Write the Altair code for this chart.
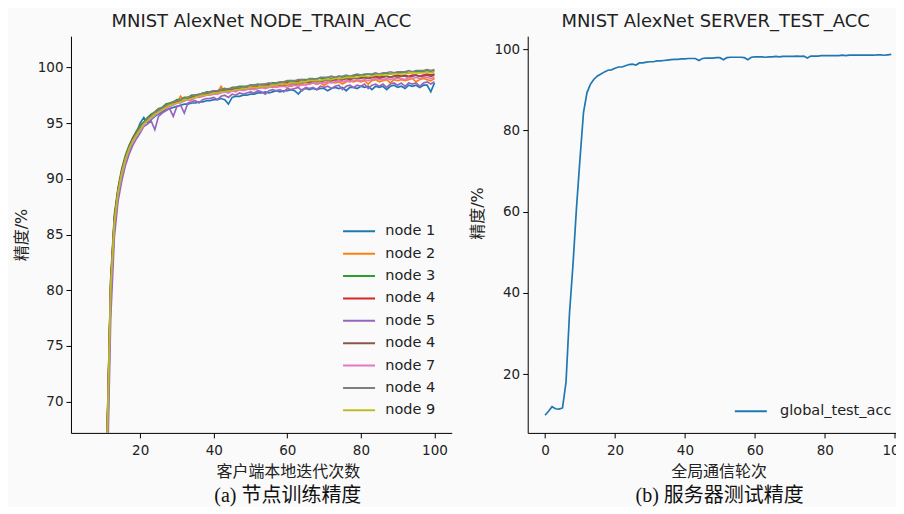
import altair as alt
import pandas as pd

# ---------------- data ----------------
iter_x = list(range(6, 101))  # client local iterations shown (x = 6..100)

node_keys = ["n1", "n2", "n3", "n4", "n5", "n6", "n7", "n8", "n9"]
node_labels = ["node 1", "node 2", "node 3", "node 4", "node 5",
               "node 4", "node 7", "node 4", "node 9"]
node_colors = ["#1f77b4", "#ff7f0e", "#2ca02c", "#d62728", "#9467bd",
               "#8c564b", "#e377c2", "#7f7f7f", "#bcbd22"]

node1 = [7.5, 12, 19.5, 31, 46.5,
         64.5, 79.5, 85.7, 88.5, 90.2, 91.5, 92.5, 93.4, 94.1, 95.0,
         95.5, 95.0, 95.3, 95.6, 95.8, 96.0, 96.2, 96.3, 96.4, 96.5,
         96.6, 96.7, 96.7, 96.8, 96.8, 96.9, 96.9, 97.0, 97.0, 97.1,
         97.1, 97.2, 97.1, 96.7, 97.3, 97.4, 97.4, 97.5, 97.5, 97.6,
         97.6, 97.7, 97.7, 97.8, 97.7, 97.8, 97.9, 97.8, 97.9, 97.9,
         98.0, 97.9, 97.6, 98.0, 98.1, 98.0, 98.1, 98.0, 98.1, 98.1,
         97.9, 98.1, 98.2, 98.1, 98.2, 97.9, 98.2, 98.2, 98.1, 98.3,
         98.2, 98.3, 98.0, 98.3, 98.2, 98.3, 98.0, 98.3, 98.4, 98.2,
         98.3, 98.1, 98.4, 98.3, 98.4, 98.2, 98.4, 98.4, 97.8, 98.6]
node2 = [8, 13, 21, 32.5, 48.5,
         66.2, 80.5, 86.4, 89.0, 90.6, 91.8, 92.6, 93.4, 94.0, 94.5,
         95.0, 95.3, 95.6, 95.8, 96.1, 96.3, 96.4, 96.6, 96.7, 96.8,
         97.4, 97.0, 97.1, 97.2, 97.3, 97.4, 97.4, 97.5, 97.6, 97.6,
         97.7, 98.3, 97.8, 97.8, 97.9, 97.9, 98.0, 98.0, 98.1, 98.0,
         98.1, 98.1, 98.2, 98.2, 98.3, 98.2, 98.3, 98.3, 98.4, 98.4,
         98.3, 98.4, 98.5, 98.4, 98.5, 98.5, 98.6, 98.5, 98.6, 98.4,
         98.6, 98.7, 98.6, 98.7, 98.5, 98.7, 98.8, 98.7, 98.8, 98.7,
         98.8, 98.5, 98.8, 98.9, 98.7, 98.8, 98.9, 98.6, 98.9, 98.8,
         98.9, 98.8, 98.9, 99.0, 98.7, 98.9, 99.0, 98.9, 98.8, 99.0]
node3 = [9, 14, 22, 34, 50,
         67, 81, 86.8, 89.2, 90.9, 92.1, 93.0, 93.7, 94.3, 94.8,
         95.1, 95.5, 95.8, 96.0, 96.3, 96.4, 96.7, 96.8, 96.9, 97.1,
         97.1, 97.3, 97.3, 97.5, 97.5, 97.6, 97.6, 97.8, 97.8, 97.9,
         97.9, 98.0, 98.1, 98.0, 98.2, 98.2, 98.3, 98.3, 98.3, 98.4,
         98.4, 98.5, 98.4, 98.5, 98.5, 98.6, 98.6, 98.6, 98.7, 98.7,
         98.8, 98.7, 98.8, 98.9, 98.9, 98.9, 98.9, 99.0, 99.0, 99.0,
         99.1, 99.0, 99.1, 99.2, 99.1, 99.2, 99.2, 99.2, 99.3, 99.3,
         99.3, 99.4, 99.3, 99.4, 99.4, 99.4, 99.5, 99.4, 99.5, 99.5,
         99.5, 99.6, 99.5, 99.6, 99.6, 99.6, 99.6, 99.7, 99.6, 99.7]
node4 = [8.5, 13.5, 21.5, 33.5, 49.5,
         66.8, 80.8, 86.5, 89.0, 90.7, 91.9, 92.8, 93.6, 94.1, 94.6,
         95.0, 95.4, 95.6, 95.9, 96.2, 96.3, 96.6, 96.6, 96.8, 97.0,
         96.9, 97.2, 97.2, 97.3, 97.5, 97.4, 97.6, 97.6, 97.7, 97.8,
         97.8, 97.9, 97.8, 98.0, 98.0, 98.1, 98.0, 98.2, 98.1, 98.2,
         98.3, 98.2, 98.3, 98.4, 98.3, 98.4, 98.5, 98.4, 98.5, 98.6,
         98.5, 98.6, 98.7, 98.6, 98.7, 98.7, 98.8, 98.7, 98.8, 98.9,
         98.8, 98.9, 98.9, 99.0, 98.9, 99.0, 99.0, 99.1, 99.0, 99.1,
         99.1, 99.0, 99.1, 99.2, 99.1, 99.2, 99.2, 99.1, 99.2, 99.3,
         99.2, 99.3, 99.2, 99.3, 99.3, 99.2, 99.3, 99.4, 99.3, 99.4]
node5 = [7, 11, 18, 29, 44,
         62, 77.5, 84.8, 88.0, 89.8, 91.2, 92.2, 93.0, 93.6, 94.1,
         94.7, 94.9, 95.2, 94.4, 95.6, 95.9, 96.1, 96.3, 95.6, 96.5,
         96.6, 95.9, 96.8, 96.9, 97.0, 96.8, 97.1, 97.2, 97.2, 97.3,
         97.1, 97.4, 97.5, 97.3, 97.6, 97.5, 97.7, 97.6, 97.7, 97.8,
         97.7, 97.9, 97.8, 97.6, 97.9, 98.0, 97.9, 98.0, 97.8, 98.1,
         98.0, 98.1, 98.2, 97.9, 98.2, 98.1, 98.2, 98.0, 98.3, 98.2,
         98.3, 98.1, 98.3, 98.4, 98.0, 98.3, 98.4, 98.2, 98.4, 98.3,
         98.5, 98.1, 98.4, 98.5, 98.3, 98.5, 98.2, 98.5, 98.6, 98.4,
         98.6, 98.3, 98.6, 98.5, 98.6, 98.3, 98.6, 98.7, 98.5, 98.7]
node6 = [9, 13, 22, 33, 49,
         66.3, 80.3, 86.2, 88.9, 90.6, 91.8, 92.7, 93.5, 94.0, 94.5,
         94.9, 95.3, 95.7, 95.8, 96.1, 96.4, 96.5, 96.7, 96.7, 96.9,
         97.0, 97.1, 97.2, 97.2, 97.4, 97.5, 97.5, 97.6, 97.7, 97.7,
         97.8, 97.8, 97.9, 97.9, 98.0, 98.0, 98.1, 98.1, 98.2, 98.1,
         98.2, 98.3, 98.2, 98.3, 98.4, 98.3, 98.4, 98.5, 98.4, 98.5,
         98.6, 98.5, 98.6, 98.6, 98.7, 98.6, 98.7, 98.8, 98.7, 98.8,
         98.8, 98.8, 98.9, 98.8, 98.9, 99.0, 98.9, 99.0, 99.0, 99.0,
         99.1, 99.0, 99.1, 99.1, 99.0, 99.1, 99.2, 99.1, 99.2, 99.1,
         99.2, 99.2, 99.1, 99.2, 99.3, 99.2, 99.2, 99.3, 99.2, 99.3]
node7 = [8, 12.5, 20.5, 32, 47.5,
         65.5, 79.8, 85.9, 88.6, 90.3, 91.6, 92.6, 93.3, 93.9, 94.3,
         94.8, 95.2, 95.4, 95.7, 95.9, 96.2, 96.3, 96.5, 96.6, 96.8,
         96.8, 97.0, 97.1, 97.0, 97.3, 97.3, 97.4, 97.5, 97.5, 97.6,
         97.6, 97.7, 97.8, 97.7, 97.9, 97.8, 98.0, 97.9, 98.0, 98.1,
         98.0, 98.1, 98.2, 98.1, 98.2, 98.3, 98.2, 98.3, 98.3, 98.2,
         98.4, 98.4, 98.3, 98.5, 98.4, 98.5, 98.6, 98.5, 98.6, 98.6,
         98.7, 98.6, 98.7, 98.8, 98.7, 98.8, 98.7, 98.8, 98.9, 98.8,
         98.9, 98.8, 98.9, 99.0, 98.9, 98.9, 99.0, 98.9, 99.0, 99.0,
         99.0, 98.9, 99.1, 99.0, 99.1, 99.0, 99.1, 99.1, 99.0, 99.1]
node8 = [8.5, 13, 21, 33, 49,
         66.5, 80.5, 86.3, 88.9, 90.6, 91.9, 92.8, 93.5, 94.1, 94.6,
         95.0, 95.4, 95.6, 96.0, 96.2, 96.4, 96.6, 96.7, 96.9, 97.0,
         97.1, 97.2, 97.3, 97.4, 97.5, 97.5, 97.7, 97.7, 97.8, 97.9,
         97.9, 98.0, 98.0, 98.1, 98.1, 98.2, 98.2, 98.2, 98.3, 98.4,
         98.4, 98.4, 98.5, 98.5, 98.6, 98.5, 98.6, 98.7, 98.7, 98.8,
         98.8, 98.8, 98.9, 98.9, 98.8, 99.0, 99.0, 98.9, 99.1, 99.1,
         99.1, 99.2, 99.1, 99.2, 99.2, 99.3, 99.2, 99.3, 99.4, 99.3,
         99.4, 99.4, 99.4, 99.5, 99.4, 99.5, 99.5, 99.6, 99.5, 99.6,
         99.6, 99.6, 99.7, 99.6, 99.7, 99.7, 99.7, 99.8, 99.7, 99.8]
node9 = [8, 13, 21, 33, 48,
         66, 80.2, 86.1, 88.8, 90.5, 91.7, 92.7, 93.4, 93.9, 94.4,
         94.9, 95.2, 95.5, 95.8, 96.0, 96.2, 96.4, 96.6, 96.7, 96.8,
         96.9, 97.1, 97.1, 97.2, 97.3, 97.4, 97.5, 97.5, 97.6, 97.7,
         97.7, 97.8, 97.8, 97.9, 97.9, 98.0, 98.0, 98.1, 98.1, 98.2,
         98.2, 98.2, 98.3, 98.3, 98.3, 98.4, 98.4, 98.5, 98.5, 98.5,
         98.6, 98.6, 98.6, 98.7, 98.7, 98.8, 98.8, 98.8, 98.8, 98.9,
         98.9, 98.9, 99.0, 99.0, 99.0, 99.1, 99.1, 99.1, 99.1, 99.2,
         99.2, 99.2, 99.2, 99.3, 99.3, 99.3, 99.3, 99.4, 99.4, 99.4,
         99.4, 99.4, 99.5, 99.5, 99.5, 99.5, 99.5, 99.6, 99.5, 99.6]

rounds = list(range(0, 100))
global_test_acc = [9.9, 10.9, 12.0, 11.5, 11.4, 11.7, 18.0, 35.0, 47.0, 61.0,
                   73.0, 84.4, 89.3, 91.4, 92.6, 93.4, 93.9, 94.4, 94.8, 94.9,
                   95.3, 95.6, 95.6, 95.9, 96.2, 96.3, 96.1, 96.6, 96.6, 96.8,
                   96.9, 96.9, 97.1, 97.1, 97.2, 97.3, 97.4, 97.5, 97.5, 97.6,
                   97.6, 97.7, 97.7, 97.7, 97.2, 97.7, 97.8, 97.8, 97.8, 97.9,
                   97.9, 97.4, 97.9, 98.0, 98.0, 98.0, 98.0, 97.9, 97.4, 98.0,
                   98.1, 98.1, 98.1, 98.0, 98.1, 98.1, 98.2, 98.1, 98.2, 98.2,
                   98.2, 98.2, 98.3, 98.2, 98.3, 97.8, 98.3, 98.3, 98.3, 98.4,
                   98.4, 98.4, 98.4, 98.4, 98.4, 98.5, 98.4, 98.5, 98.5, 98.5,
                   98.5, 98.5, 98.5, 98.5, 98.5, 98.6, 98.6, 98.5, 98.6, 98.7]

left_title = "MNIST AlexNet NODE_TRAIN_ACC"
right_title = "MNIST AlexNet SERVER_TEST_ACC"
left_xlabel = "客户端本地迭代次数"
right_xlabel = "全局通信轮次"
ylabel = "精度/%"
left_caption = "(a) 节点训练精度"
right_caption = "(b) 服务器测试精度"
right_series = "global_test_acc"

left_yticks = [70, 75, 80, 85, 90, 95, 100]
left_xticks = [20, 40, 60, 80, 100]
right_yticks = [20, 40, 60, 80, 100]
right_xticks = [0, 20, 40, 60, 80, 100]

# ---------------- build tables ----------------
all_nodes = [node1, node2, node3, node4, node5, node6, node7, node8, node9]
rows = []
for key, vals in zip(node_keys, all_nodes):
    for xv, yv in zip(iter_x, vals):
        rows.append({"x": xv, "acc": yv, "series": key})
df_left = pd.DataFrame(rows)
df_right = pd.DataFrame({"x": rounds, "acc": global_test_acc,
                         "series": [right_series] * len(rounds)})

label_expr = "".join(f"datum.label == '{k}' ? '{l}' : " for k, l in zip(node_keys, node_labels)) + "datum.label"

FONT = "DejaVu Sans, Noto Sans CJK SC"
CAP_FONT = "Liberation Serif, Noto Sans CJK SC"
TXT = "#222222"
W_L, W_R, H = 381, 376, 397
LEG_SYMBOL = "M-3.2,0H3.2"   # horizontal stroke, 32px long at size 100


def xaxis(values, title, **kw):
    return alt.Axis(values=values, title=title, grid=False, tickSize=5,
                    tickColor="#000", domainColor="#000", tickWidth=1, domainWidth=1,
                    labelFontSize=13.5, labelColor=TXT, labelFont=FONT,
                    titleFont=FONT, titleFontSize=16, titleFontWeight="normal",
                    titleColor=TXT, labelPadding=6, titlePadding=6, **kw)


def yaxis(values, title, **kw):
    return alt.Axis(values=values, title=title, grid=False, tickSize=5,
                    tickColor="#000", domainColor="#000", tickWidth=1, domainWidth=1,
                    labelFontSize=13.5, labelColor=TXT, labelFont=FONT,
                    titleFont=FONT, titleFontSize=16, titleFontWeight="normal",
                    titleColor=TXT, labelPadding=3, titlePadding=8, **kw)


left_lines = alt.Chart(df_left).mark_line(strokeWidth=1.7, clip=True).encode(
    x=alt.X("x:Q", scale=alt.Scale(domain=[1.2, 104.7], nice=False, zero=False),
            axis=xaxis(left_xticks, left_xlabel, titleX=217)),
    y=alt.Y("acc:Q", scale=alt.Scale(domain=[67.2, 102.8], nice=False, zero=False),
            axis=yaxis(left_yticks, ylabel)),
    color=alt.Color("series:N",
                    scale=alt.Scale(domain=node_keys, range=node_colors),
                    legend=alt.Legend(orient="none", legendX=281, legendY=188,
                                      title=None, symbolType=LEG_SYMBOL, symbolSize=100,
                                      symbolStrokeWidth=2, labelFontSize=14.5,
                                      labelFont=FONT, labelColor=TXT, labelOffset=19,
                                      rowPadding=7.4, padding=0, labelExpr=label_expr)),
)
left_cap = alt.Chart(pd.DataFrame({"t": [left_caption]})).mark_text(
    font=CAP_FONT, fontSize=20, color="#111", baseline="middle"
).encode(text="t:N", x=alt.value(217), y=alt.value(H + 63.5))

left = alt.layer(left_lines, left_cap).properties(
    width=W_L, height=H,
    title=alt.Title(left_title, fontSize=18, font=FONT, fontWeight="normal",
                    color=TXT, offset=5))

right_line = alt.Chart(df_right).mark_line(strokeWidth=1.7, clip=True).encode(
    x=alt.X("x:Q", scale=alt.Scale(domain=[-4.95, 102.5], nice=False, zero=False),
            axis=xaxis(right_xticks, right_xlabel, titleX=191)),
    y=alt.Y("acc:Q", scale=alt.Scale(domain=[5.56, 103.2], nice=False, zero=False),
            axis=yaxis(right_yticks, ylabel, titleY=177)),
    color=alt.Color("series:N",
                    scale=alt.Scale(domain=[right_series], range=["#1f77b4"]),
                    legend=alt.Legend(orient="none", legendX=216, legendY=368,
                                      title=None, symbolType=LEG_SYMBOL, symbolSize=100,
                                      symbolStrokeWidth=2, labelFontSize=14.5,
                                      labelFont=FONT, labelColor=TXT, labelOffset=22,
                                      padding=0)),
)
right_cap = alt.Chart(pd.DataFrame({"t": [right_caption]})).mark_text(
    font=CAP_FONT, fontSize=20, color="#111", baseline="middle"
).encode(text="t:N", x=alt.value(192), y=alt.value(H + 63.5))

right = alt.layer(right_line, right_cap).properties(
    width=W_R, height=H,
    title=alt.Title(right_title, fontSize=18, font=FONT, fontWeight="normal",
                    color=TXT, offset=5))

chart = alt.hconcat(left, right, spacing=18).resolve_scale(
    color="independent").resolve_legend(color="independent").configure_view(
    stroke=None).properties(
    background="#fafafa",
    padding={"left": 5, "top": 5, "right": -12.5, "bottom": -0.5})

chart.save("out.html", embed_options={"renderer": "svg", "actions": False})
